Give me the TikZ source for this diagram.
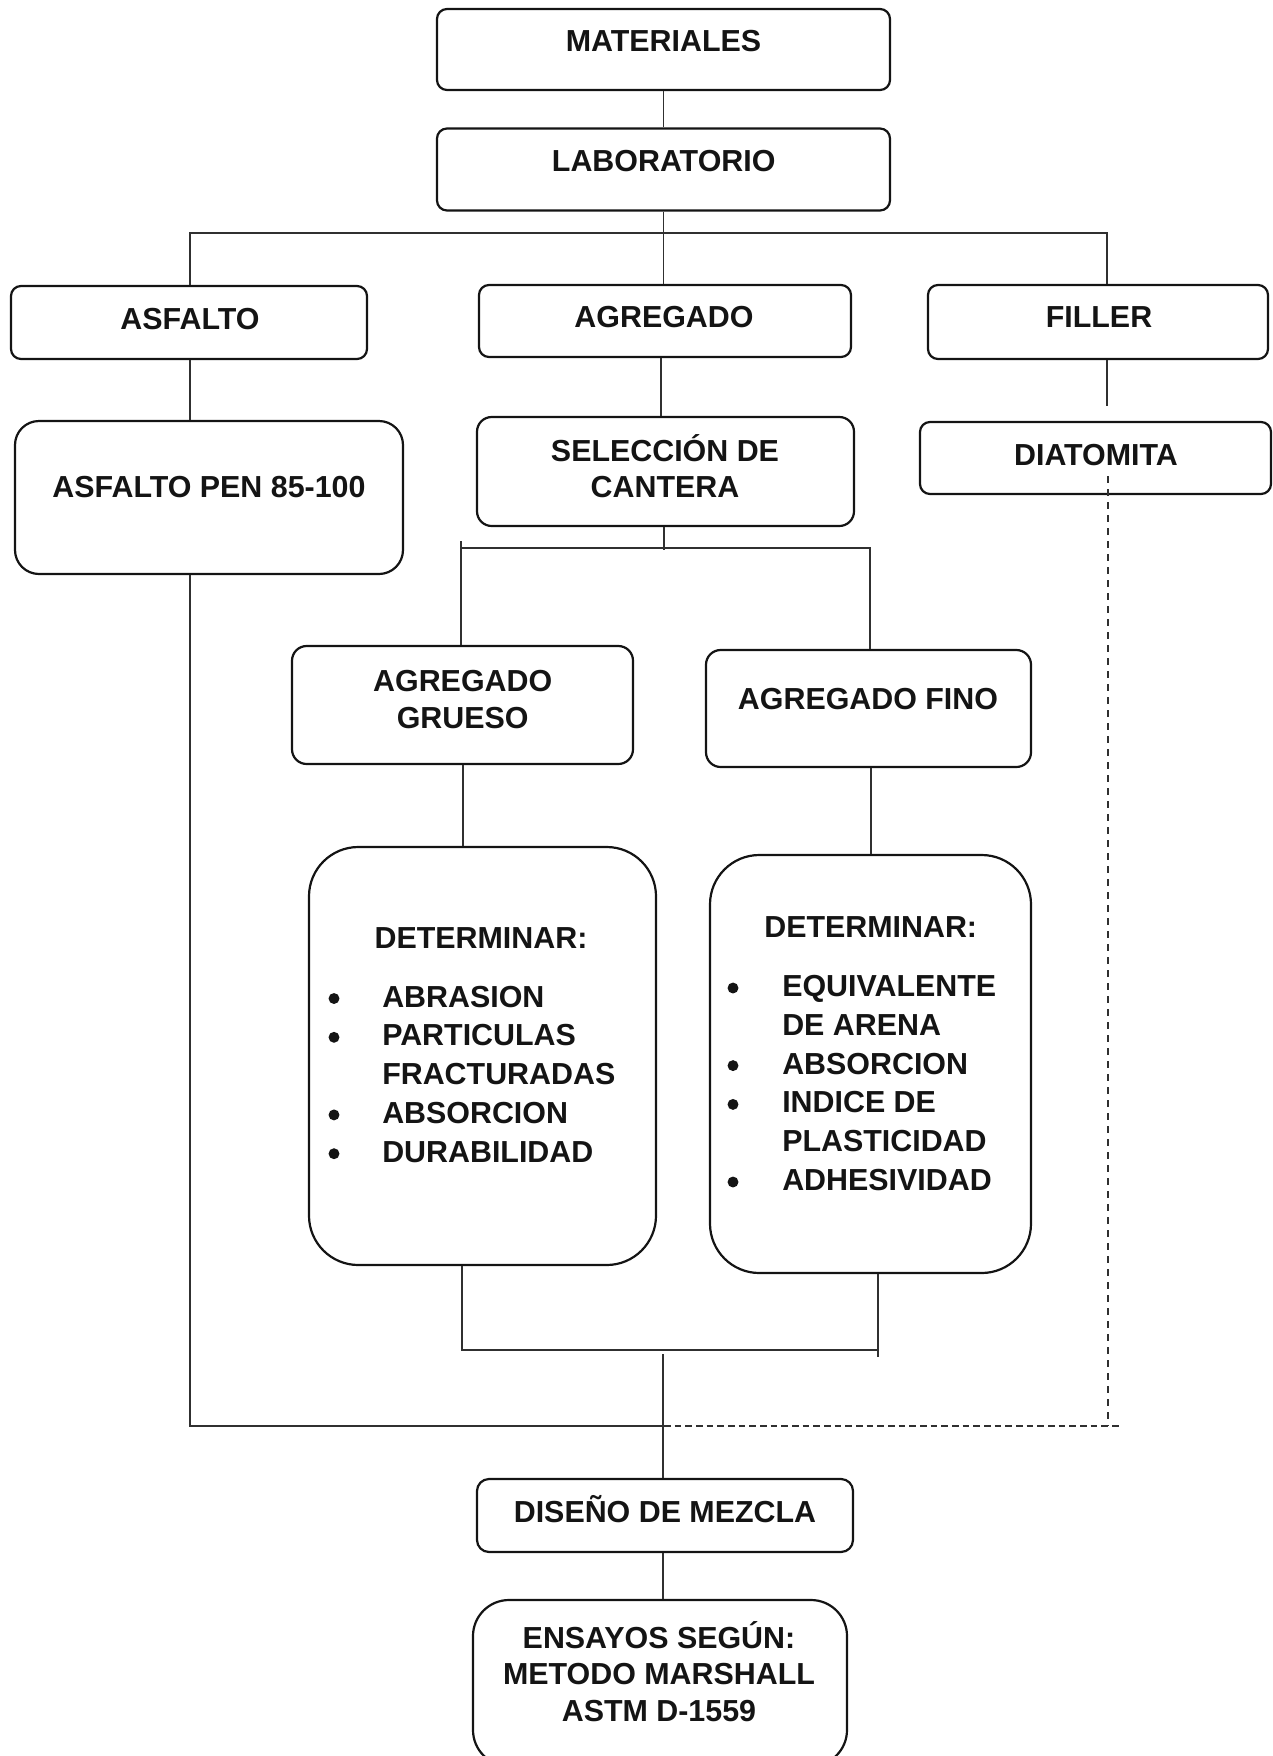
\documentclass[tikz,border=0pt]{standalone}
\usepackage{fontspec}
\setmainfont{Liberation Sans}
\definecolor{ink}{HTML}{141414}
\definecolor{wire}{HTML}{303030}
\newcommand{\boxfont}{\bfseries\fontsize{22.8}{27.4}\selectfont}
\newcommand{\listfont}{\bfseries\fontsize{22.8}{29.1}\selectfont}
\begin{document}
\begin{tikzpicture}[x=0.75pt,y=-0.75pt,
  box/.style={draw=ink, line width=1.65pt, rounded corners=#1, inner sep=0pt, fill=none},
  box/.default=7.5pt,
  sz/.style 2 args={minimum width=#1*0.75pt, minimum height=#2*0.75pt},
  txt/.style={anchor=base, inner sep=0pt, font=\boxfont, text=ink},
  lst/.style={anchor=base west, inner sep=0pt, font=\listfont, text=ink},
  conn/.style={draw=wire, line width=0.9pt},
  dashv/.style={draw=wire, line width=0.9pt, dash pattern=on 5.25pt off 4.5pt},
  dashh/.style={draw=wire, line width=1.3pt, dash pattern=on 5pt off 3pt},
  dot/.style={fill=ink}]
\useasboundingbox (0,0) rectangle (1273,1756);

% boxes
\node[box, sz={453}{81}] (mat) at (663.5,49.5) {};
\node[txt] (matT) at (663.5,51.5) {MATERIALES};

\node[box, sz={453}{82}] (lab) at (663.5,169.5) {};
\node[txt] (labT) at (663.7,171.5) {LABORATORIO};

\node[box, sz={356}{73}] (asf) at (189,322.5) {};
\node[txt] (asfT) at (190,329) {ASFALTO};

\node[box, sz={372}{72}] (agr) at (665,321) {};
\node[txt] (agrT) at (664,327) {AGREGADO};

\node[box, sz={340}{74}] (fil) at (1098,322) {};
\node[txt] (filT) at (1099,327) {FILLER};

\node[box=18pt, sz={388}{153}] (pen) at (209,497.5) {};
\node[txt] (penT) at (209,497.5) {ASFALTO PEN 85-100};

\node[box=11pt, sz={377}{109}] (sel) at (665.5,471.5) {};
\node[txt] (selT) at (665,461) {\begin{tabular}[t]{@{}c@{}}SELECCIÓN DE\\CANTERA\end{tabular}};

\node[box, sz={351}{72}] (dia) at (1095.5,458) {};
\node[txt] (diaT) at (1096,465) {DIATOMITA};

\node[box=11pt, sz={341}{118}] (gru) at (462.5,705) {};
\node[txt] (gruT) at (462.7,691.6) {\begin{tabular}[t]{@{}c@{}}AGREGADO\\GRUESO\end{tabular}};

\node[box=11pt, sz={325}{117}] (fino) at (868.5,708.5) {};
\node[txt] (finoT) at (868,709.5) {AGREGADO FINO};

\node[box=37pt, sz={347}{418}] (detL) at (482.5,1056) {};
\node[txt] (detLT) at (481,948) {DETERMINAR:};
\node[lst] (detLL) at (382,1007) {\begin{tabular}[t]{@{}l@{}}
ABRASION\\
PARTICULAS\\
FRACTURADAS\\
ABSORCION\\
DURABILIDAD\end{tabular}};
\foreach \k in {0,1,3,4}
  \fill[dot] (334,{998.5+38.8*\k}) circle[radius=4.1pt];

\node[box=37pt, sz={321}{418}] (detR) at (870.5,1064) {};
\node[txt] (detRT) at (870.7,937) {DETERMINAR:};
\node[lst] (detRL) at (782,996.5) {\begin{tabular}[t]{@{}l@{}}
EQUIVALENTE\\
DE ARENA\\
ABSORCION\\
INDICE DE\\
PLASTICIDAD\\
ADHESIVIDAD\end{tabular}};
\foreach \k in {0,2,3,5}
  \fill[dot] (733,{988+38.8*\k}) circle[radius=4.1pt];

\node[box=9pt, sz={376}{73}] (dis) at (665,1515.5) {};
\node[txt] (disT) at (665,1522) {DISEÑO DE MEZCLA};

\node[box=27pt, sz={374}{166}] (ens) at (660,1683) {};
\node[txt] (ensT) at (659,1648) {\begin{tabular}[t]{@{}c@{}}ENSAYOS SEGÚN:\\METODO MARSHALL\\ASTM D-1559\end{tabular}};

% helper coordinates
\coordinate (f1) at (190,233);
\coordinate (f2) at (1107,233);
\coordinate (f3) at (1107,406);
\coordinate (c2) at (661,0);
\coordinate (s0) at (664,550);
\coordinate (s1a) at (461,541);
\coordinate (s1) at (461,548);
\coordinate (s2) at (870,548);
\coordinate (g1) at (463,0);
\coordinate (g2) at (871,0);
\coordinate (b1) at (462,1350);
\coordinate (b2) at (878,1350);
\coordinate (b2e) at (878,1357);
\coordinate (m1) at (663,1354);
\coordinate (j) at (664,1426);
\coordinate (d1) at (1108,476);
\coordinate (d2) at (1108,1426);
\coordinate (d3) at (1119,1426);

% connectors
\draw[conn] (mat.south) -- (lab.north);
\draw[conn] (lab.south) -- (lab.south |- agr.north);
\draw[conn] (asf.north -| f1) -- (f1) -- (f2) -- (f2 |- fil.north);
\draw[conn] (asf.south -| f1) -- (f1 |- pen.north);
\draw[conn] (agr.south -| c2) -- (sel.north -| c2);
\draw[conn] (fil.south -| f2) -- (f3);
\draw[conn] (sel.south -| s0) -- (s0);
\draw[conn] (s1a) -- (gru.north -| s1);
\draw[conn] (s1) -- (s2) -- (fino.north -| s2);
\draw[conn] (gru.south -| g1) -- (detL.north -| g1);
\draw[conn] (fino.south -| g2) -- (detR.north -| g2);
\draw[conn] (detL.south -| b1) -- (b1) -- (b2);
\draw[conn] (detR.south -| b2) -- (b2e);
\draw[conn] (m1) -- (dis.north -| m1);
\draw[conn] (pen.south -| f1) -- (f1 |- j) -- (j);
\draw[conn] (dis.south -| m1) -- (ens.north -| m1);
\draw[dashv] (d1) -- (d2);
\draw[dashh] (j) -- (d3);
\end{tikzpicture}
\end{document}
